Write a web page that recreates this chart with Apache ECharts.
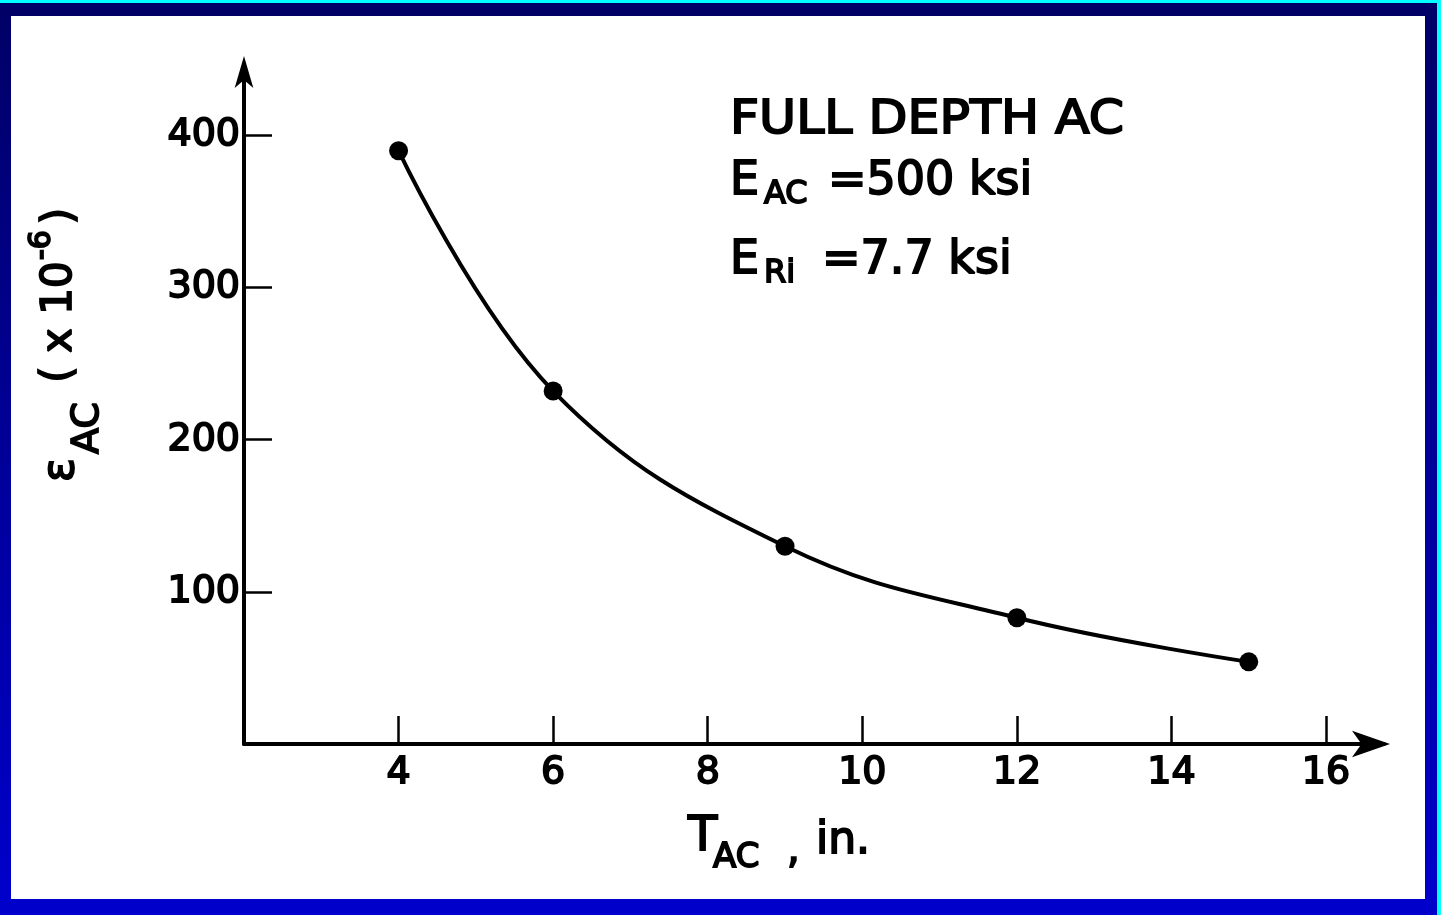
<!DOCTYPE html>
<html>
<head>
<meta charset="utf-8">
<script src="https://cdn.jsdelivr.net/npm/echarts@6/dist/echarts.min.js"></script>
<style>
  html, body { margin: 0; padding: 0; }
  body {
    width: 1441px; height: 915px; overflow: hidden; position: relative;
    background: linear-gradient(to bottom, #000066 0%, #0000cc 100%);
  }
  #topline { position: absolute; left: 0; top: 0; width: 1441px; height: 3px; background: #00ffff; }
  #rightline { position: absolute; right: 0; top: 0; width: 4px; height: 915px; background: #00ffff; }
  #paper { position: absolute; left: 11px; top: 16px; width: 1414px; height: 883px; background: #ffffff; }
  #chart { position: absolute; left: 0; top: 0; width: 1441px; height: 915px; }
</style>
</head>
<body>
<div id="topline"></div>
<div id="rightline"></div>
<div id="paper"></div>
<div id="chart"></div>
<script>
// thickness of asphalt layer (in.) vs. strain at bottom of AC (x 10^-6)
var thickness = [4, 6, 9, 12, 15];
var strain = [390, 232, 130, 83, 54];
var xTicks = [4, 6, 8, 10, 12, 14, 16];
var yTicks = [100, 200, 300, 400];

var FONT = 'DejaVu Sans';
var ink = '#000';

var myChart = echarts.init(document.getElementById('chart'), null, { renderer: 'canvas' });

function txt(x, y, s, size, opts) {
  opts = opts || {};
  return {
    type: 'text',
    x: x, y: y,
    rotation: opts.rotation || 0,
    scaleX: opts.scaleX || 1,
    style: {
      text: s,
      fontFamily: FONT,
      fontSize: size,
      fill: ink,
      stroke: ink,
      lineWidth: 1.8,
      align: opts.align || 'left',
      verticalAlign: 'middle'
    }
  };
}

var rot = Math.PI / 2;

myChart.setOption({
  backgroundColor: 'transparent',
  animation: false,
  grid: { left: 244, right: 57, top: 64, bottom: 171, containLabel: false },
  xAxis: {
    type: 'value',
    min: 2,
    max: 16.75,
    interval: 2,
    splitLine: { show: false },
    axisLine: {
      onZero: false,
      lineStyle: { color: ink, width: 4 },
      symbol: ['none', 'arrow'],
      symbolSize: [20, 38],
      symbolOffset: [0, 6]
    },
    axisTick: { show: true, inside: true, length: 28, lineStyle: { color: ink, width: 2.5 }, customValues: xTicks },
    axisLabel: {
      customValues: xTicks,
      margin: 10,
      color: ink,
      fontFamily: FONT,
      fontSize: 38,
      textBorderColor: ink,
      textBorderWidth: 1.8
    }
  },
  yAxis: {
    type: 'value',
    min: 0,
    max: 447,
    interval: 50,
    splitLine: { show: false },
    axisLine: {
      onZero: false,
      lineStyle: { color: ink, width: 4 },
      symbol: ['none', 'arrow'],
      symbolSize: [14, 32],
      symbolOffset: [0, 8]
    },
    axisTick: { show: true, inside: true, length: 28, lineStyle: { color: ink, width: 2.5 }, customValues: yTicks },
    axisLabel: {
      customValues: yTicks,
      margin: 4,
      color: ink,
      fontFamily: FONT,
      fontSize: 38,
      textBorderColor: ink,
      textBorderWidth: 1.8
    }
  },
  series: [{
    type: 'line',
    data: thickness.map(function (t, i) { return [t, strain[i]]; }),
    smooth: 0.4,
    symbol: 'circle',
    symbolSize: 19,
    itemStyle: { color: ink },
    lineStyle: { color: ink, width: 4 }
  }],
  graphic: [
    // annotation block
    txt(730, 121, 'FULL DEPTH AC', 46, { scaleX: 1.1 }),
    txt(730, 182, 'E', 46),
    txt(764, 195, 'AC', 32),
    txt(828, 182, '=500 ksi', 46),
    txt(730, 261, 'E', 46),
    txt(764, 274, 'Ri', 32),
    txt(822, 261, '=7.7 ksi', 46),
    // x axis title
    txt(688, 838, 'T', 48),
    txt(713, 858, 'AC', 34),
    txt(787, 852, ',', 40),
    txt(816, 842, 'in.', 44),
    // y axis title (rotated)
    txt(62, 470, '\u03b5', 44, { rotation: rot, align: 'center' }),
    txt(88, 428, 'AC', 38, { rotation: rot, align: 'center' }),
    txt(60, 322, '( x 10', 42, { rotation: rot, align: 'center' }),
    txt(42, 245, '-6', 30, { rotation: rot, align: 'center' }),
    txt(61, 216, ')', 42, { rotation: rot, align: 'center' })
  ]
});
</script>
</body>
</html>
